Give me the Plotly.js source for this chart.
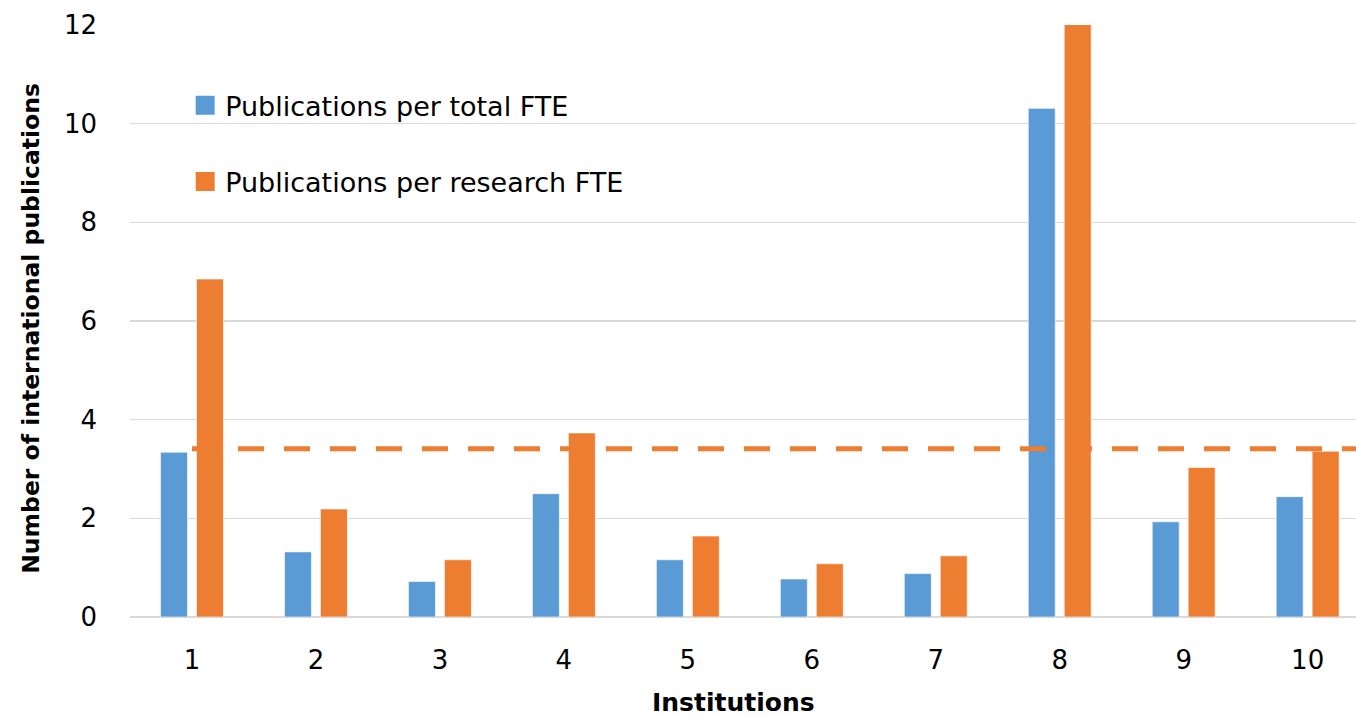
<!DOCTYPE html>
<html><head><meta charset="utf-8">
<script src="https://cdn.plot.ly/plotly-3.0.1.min.js"></script>
<style>html,body{margin:0;padding:0;background:#fff}#c{width:1356px;height:718px}</style>
</head><body><div id="c"></div>
<script>
const institutions = [1,2,3,4,5,6,7,8,9,10];
const perTotalFTE = [3.34,1.32,0.72,2.50,1.16,0.77,0.88,10.31,1.93,2.44];
const perResearchFTE = [6.85,2.19,1.16,3.73,1.64,1.08,1.24,12.02,3.03,3.36];
const averageValue = 3.41;
const averageSpan = [1, 10.39];
const seriesNames = ['Publications per total FTE','Publications per research FTE'];
const colors = ['#5B9BD5','#ED7D31'];
const font = 'DejaVu Sans, sans-serif';

const traces = [
  {type:'bar', x:institutions, y:perTotalFTE, name:seriesNames[0], showlegend:false,
   marker:{color:colors[0], line:{color:'rgba(255,255,255,0.6)', width:1}}},
  {type:'bar', x:institutions, y:perResearchFTE, name:seriesNames[1], showlegend:false,
   marker:{color:colors[1], line:{color:'rgba(255,255,255,0.6)', width:1}}},
  {type:'scatter', mode:'lines', x:averageSpan, y:[averageValue, averageValue], showlegend:false,
   line:{color:colors[1], width:5, dash:'26px,20px'}, hoverinfo:'skip'},
  {type:'scatter', mode:'markers', x:[null], y:[null], name:seriesNames[0], legendgroup:'a',
   marker:{symbol:'square', color:colors[0], size:16, line:{color:colors[0], width:3}}},
  {type:'scatter', mode:'markers', x:[null], y:[null], name:seriesNames[1], legendgroup:'b',
   marker:{symbol:'square', color:colors[1], size:16, line:{color:colors[1], width:3}}}
];

const layout = {
  width:1356, height:718,
  margin:{l:129.5, r:0, t:24.5, b:100.5},
  paper_bgcolor:'#fff', plot_bgcolor:'#fff',
  font:{family:font, color:'#000', size:24},
  barmode:'group', bargap:0.42, bargroupgap:0.25,
  showlegend:true,
  legend:{x:0.045, y:0.905, xanchor:'left', yanchor:'top', bgcolor:'rgba(0,0,0,0)',
    font:{family:font, size:27, color:'#000'}, traceorder:'grouped', tracegroupgap:38, itemwidth:30},
  xaxis:{range:[0.5,10.39], tickmode:'array', tickvals:institutions, ticktext:institutions.map(String),
    showgrid:false, zeroline:false, showline:false, ticks:'', ticklabelstandoff:25,
    tickfont:{size:26, family:font}},
  yaxis:{range:[0,12], dtick:2, showgrid:true, gridcolor:'#d9d9d9', gridwidth:1.5,
    zeroline:true, zerolinecolor:'#d9d9d9', zerolinewidth:2, showline:false, ticks:'',
    ticklabelstandoff:32, tickfont:{size:26, family:font}},
  annotations:[
    {text:'<b>Institutions</b>', xref:'paper', yref:'paper', x:0.492, y:-0.144,
     xanchor:'center', yanchor:'middle', showarrow:false, font:{size:25, family:font, color:'#000'}},
    {text:'<b>Number of international publications</b>', xref:'paper', yref:'paper', x:-0.081, y:0.488,
     xanchor:'center', yanchor:'middle', textangle:-90, showarrow:false, font:{size:23.5, family:font, color:'#000'}}
  ]
};
Plotly.newPlot('c', traces, layout, {displayModeBar:false, staticPlot:true});
</script></body></html>
